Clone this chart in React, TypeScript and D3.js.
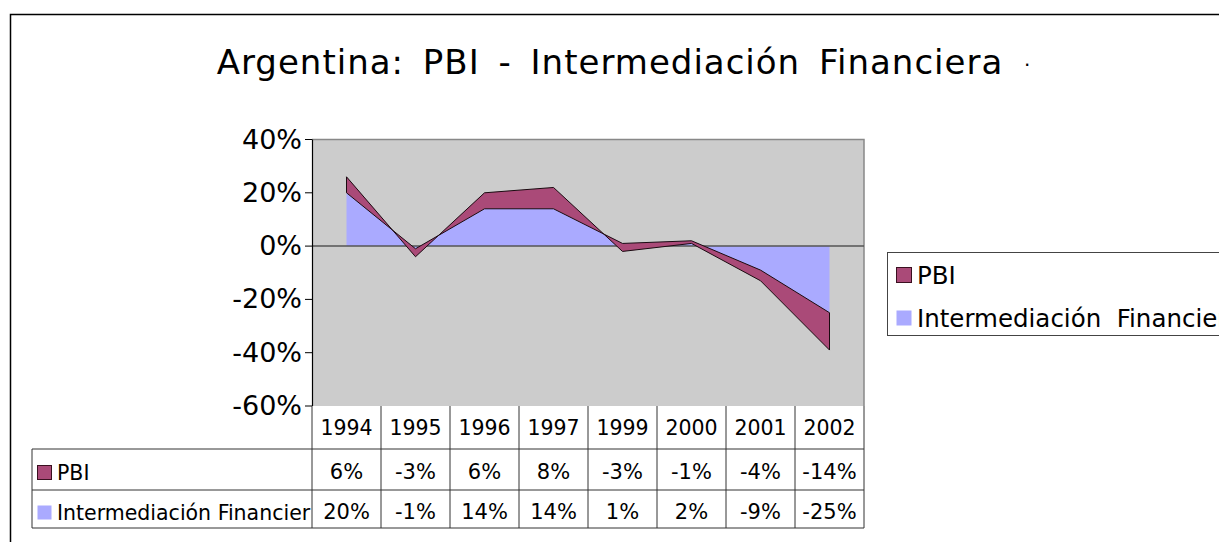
import { useRef, useEffect } from 'react';
import * as d3 from 'd3';

const years = ['1994', '1995', '1996', '1997', '1999', '2000', '2001', '2002'];
const pbi = [6, -3, 6, 8, -3, -1, -4, -14];
const intermediacion = [20, -1, 14, 14, 1, 2, -9, -25];
const yTicks = [40, 20, 0, -20, -40, -60];
const seriesNames = ['PBI', 'Intermediación Financiera'];

const FONT = "'DejaVu Sans', sans-serif";
const MAROON = '#aa4a78';
const BLUE = '#aaaaff';

const App = () => {
  const svgRef = useRef(null);

  useEffect(() => {
    const svg = d3.select(svgRef.current);
    svg.selectAll('*').remove();

    const w = 1219;
    const h = 542;

    // outer frame
    svg.append('rect').attr('width', w).attr('height', h).attr('fill', '#fff');
    svg
      .append('path')
      .attr('d', `M10.5,${h} V14.5 H${w}`)
      .attr('fill', 'none')
      .attr('stroke', '#000')
      .attr('stroke-width', 1.5);

    svg
      .append('text')
      .attr('x', 610)
      .attr('y', 74)
      .attr('text-anchor', 'middle')
      .attr('font-family', FONT)
      .attr('font-size', 34)
      .attr('letter-spacing', 1)
      .attr('word-spacing', 7)
      .text('Argentina: PBI - Intermediación Financiera');
    svg
      .append('text')
      .attr('x', 1024)
      .attr('y', 72)
      .attr('font-family', FONT)
      .attr('font-size', 20)
      .text('·');

    const xScale = d3.scaleBand().domain(years).range([312, 864]);
    const yScale = d3.scaleLinear().domain([-60, 40]).range([406, 139.5]);
    const cx = (d) => xScale(d) + xScale.bandwidth() / 2;

    // plot area
    svg
      .append('rect')
      .attr('x', 312)
      .attr('y', yScale(40))
      .attr('width', 552)
      .attr('height', yScale(-60) - yScale(40))
      .attr('fill', '#cccccc');
    svg
      .append('path')
      .attr('d', `M312,${yScale(40)} H864 V${yScale(-60)}`)
      .attr('fill', 'none')
      .attr('stroke', '#888')
      .attr('stroke-width', 1.5);

    const rows = years.map((yr, i) => ({ year: yr, inter: intermediacion[i], pbi: pbi[i] }));
    const stacked = d3.stack().keys(['inter', 'pbi'])(rows);

    const area = d3
      .area()
      .x((d) => cx(d.data.year))
      .y0((d) => yScale(d[0]))
      .y1((d) => yScale(d[1]))
      .curve(d3.curveLinear);

    svg
      .append('path')
      .attr('d', area(stacked[0]))
      .attr('fill', BLUE);

    // zero line
    svg
      .append('line')
      .attr('x1', 312)
      .attr('x2', 864)
      .attr('y1', yScale(0))
      .attr('y2', yScale(0))
      .attr('stroke', '#555')
      .attr('stroke-width', 1.5);

    svg
      .append('path')
      .attr('d', area(stacked[1]))
      .attr('fill', MAROON)
      .attr('stroke', '#1a0a10')
      .attr('stroke-width', 1)
      .attr('stroke-linejoin', 'round');

    // y axis
    svg
      .append('line')
      .attr('x1', 312.5)
      .attr('x2', 312.5)
      .attr('y1', yScale(40))
      .attr('y2', yScale(-60))
      .attr('stroke', '#000')
      .attr('stroke-width', 1.2);
    const ticks = svg.selectAll('.tick').data(yTicks).enter().append('g');
    ticks
      .append('line')
      .attr('x1', 305)
      .attr('x2', 312)
      .attr('y1', (d) => yScale(d))
      .attr('y2', (d) => yScale(d))
      .attr('stroke', '#000');
    ticks
      .append('text')
      .attr('x', 302)
      .attr('y', (d) => yScale(d) + 9)
      .attr('text-anchor', 'end')
      .attr('font-family', FONT)
      .attr('font-size', 27)
      .text((d) => `${d}%`);

    // data table
    const rowTop = [406, 449, 490, 528];
    const lineColor = '#333';
    const tbl = svg.append('g').attr('stroke', lineColor).attr('stroke-width', 1);
    const edges = years.map((d) => xScale(d)).concat([864]);
    edges.forEach((x) => {
      tbl.append('line').attr('x1', x).attr('x2', x).attr('y1', rowTop[0]).attr('y2', rowTop[3]);
    });
    rowTop.slice(1).forEach((y) => {
      tbl.append('line').attr('x1', 32).attr('x2', 864).attr('y1', y).attr('y2', y);
    });
    tbl.append('line').attr('x1', 32).attr('x2', 32).attr('y1', rowTop[1]).attr('y2', rowTop[3]);

    svg
      .selectAll('.yr')
      .data(years)
      .enter()
      .append('text')
      .attr('x', (d) => cx(d))
      .attr('y', 435)
      .attr('text-anchor', 'middle')
      .attr('font-family', FONT)
      .attr('font-size', 20.5)
      .text((d) => d);

    const tableRows = [
      { name: seriesNames[0], values: pbi, color: MAROON, stroke: '#3a1020', y: 477 },
      { name: seriesNames[1], values: intermediacion, color: BLUE, stroke: 'none', y: 517 },
    ];

    svg
      .append('clipPath')
      .attr('id', 'labelclip')
      .append('rect')
      .attr('x', 32)
      .attr('y', 449)
      .attr('width', 279)
      .attr('height', 80);

    tableRows.forEach((r) => {
      svg
        .append('rect')
        .attr('x', 37.5)
        .attr('y', r.y - 11.5)
        .attr('width', 14)
        .attr('height', 14)
        .attr('fill', r.color)
        .attr('stroke', r.stroke);
      svg
        .append('text')
        .attr('x', 57)
        .attr('y', r.y + 3)
        .attr('clip-path', 'url(#labelclip)')
        .attr('font-family', FONT)
        .attr('font-size', 20.5)
        .text(r.name);
      svg
        .selectAll(null)
        .data(r.values)
        .enter()
        .append('text')
        .attr('x', (d, i) => cx(years[i]))
        .attr('y', r.y + 2)
        .attr('text-anchor', 'middle')
        .attr('font-family', FONT)
        .attr('font-size', 21)
        .text((d) => `${d}%`);
    });

    // legend
    svg
      .append('rect')
      .attr('x', 887.5)
      .attr('y', 252.5)
      .attr('width', 400)
      .attr('height', 83)
      .attr('fill', '#fff')
      .attr('stroke', '#444');
    const legendItems = [
      { name: seriesNames[0], color: MAROON, stroke: '#3a1020', y: 284 },
      { name: 'Intermediación  Financiera', color: BLUE, stroke: 'none', y: 327 },
    ];
    legendItems.forEach((l) => {
      svg
        .append('rect')
        .attr('x', 896.5)
        .attr('y', l.y - 16.5)
        .attr('width', 15)
        .attr('height', 15)
        .attr('fill', l.color)
        .attr('stroke', l.stroke);
      svg
        .append('text')
        .attr('x', 917)
        .attr('y', l.y)
        .attr('font-family', FONT)
        .attr('font-size', 24.5)
        .style('white-space', 'pre')
        .text(l.name);
    });
  }, []);

  return (
    <div style={{ position: 'absolute', left: 0, top: 0 }}>
      <svg ref={svgRef} width={1219} height={542} style={{ display: 'block' }}></svg>
    </div>
  );
};

export default App;
